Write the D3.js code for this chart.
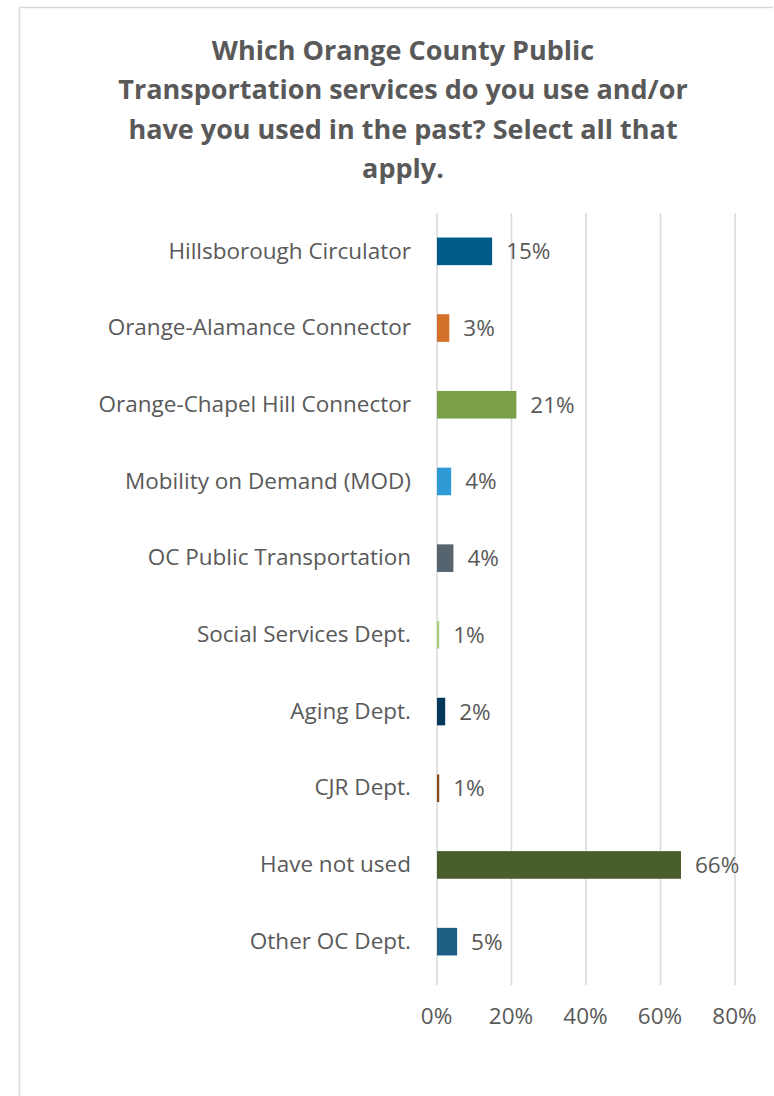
<!DOCTYPE html>
<html>
<head>
<meta charset="utf-8">
<script src="https://cdn.jsdelivr.net/npm/d3@7"></script>
<style>
  body { margin: 0; background: #fff; }
  svg text { font-family: "Open Sans", "Noto Sans", sans-serif; fill: #595959; }
  .axis path, .axis line { stroke: none; }
</style>
</head>
<body>
<div id="chart"></div>
<script>
const categories = [
  "Hillsborough Circulator",
  "Orange-Alamance Connector",
  "Orange-Chapel Hill Connector",
  "Mobility on Demand (MOD)",
  "OC Public Transportation",
  "Social Services Dept.",
  "Aging Dept.",
  "CJR Dept.",
  "Have not used",
  "Other OC Dept."
];
const values = [14.8, 3.3, 21.3, 3.8, 4.4, 0.6, 2.2, 0.6, 65.5, 5.4];
const valueLabels = ["15%", "3%", "21%", "4%", "4%", "1%", "2%", "1%", "66%", "5%"];
const barColors = ["#005a8a", "#d3702a", "#7aa047", "#2e9bd6", "#566470", "#a9cf7a", "#04385a", "#8a4a1a", "#4a5e2b", "#1f5f86"];
const tickValues = [0, 20, 40, 60, 80];
const titleLines = [
  "Which Orange County Public",
  "Transportation services do you use and/or",
  "have you used in the past? Select all that",
  "apply."
];

const W = 774, H = 1096;
const plot = { left: 437, right: 735, top: 213, bottom: 980 };
const labelSize = "22.5px";

const svg = d3.select("#chart").append("svg")
  .attr("width", W)
  .attr("height", H);

// frame (only top and left edges visible in the picture)
svg.append("line")
  .attr("x1", 19.5).attr("x2", 773).attr("y1", 7.5).attr("y2", 7.5)
  .attr("stroke", "#d9d9d9").attr("stroke-width", 1.5);
svg.append("line")
  .attr("x1", 19.5).attr("x2", 19.5).attr("y1", 7.5).attr("y2", H)
  .attr("stroke", "#d9d9d9").attr("stroke-width", 1.5);

// title
svg.append("text")
  .attr("x", 402)
  .attr("text-anchor", "middle")
  .style("font-size", "27px")
  .style("font-weight", "bold")
  .selectAll("tspan")
  .data(titleLines)
  .enter().append("tspan")
  .attr("x", 403)
  .attr("y", (d, i) => 60 + i * 39.3)
  .text(d => d);

const x = d3.scaleLinear()
  .domain([0, 80])
  .range([plot.left, plot.right]);

const y = d3.scaleBand()
  .domain(categories)
  .range([plot.top, plot.bottom])
  .paddingInner(0.64)
  .paddingOuter(0.32);

// gridlines
svg.selectAll("line.grid")
  .data(tickValues)
  .enter().append("line")
  .attr("class", "grid")
  .attr("x1", d => x(d)).attr("x2", d => x(d))
  .attr("y1", plot.top).attr("y2", plot.bottom + 5)
  .attr("stroke", "#d9d9d9")
  .attr("stroke-width", 1.5);

// x axis
const xAxis = d3.axisBottom(x)
  .tickValues(tickValues)
  .tickFormat(d => d + "%")
  .tickSize(0)
  .tickPadding(0);

svg.append("g")
  .attr("class", "axis x")
  .attr("transform", "translate(-1," + (plot.bottom + 28) + ")")
  .call(xAxis)
  .selectAll("text")
  .style("font-size", labelSize)
  .style("fill", "#595959");

// y axis
const yAxis = d3.axisLeft(y).tickSize(0).tickPadding(26);
svg.append("g")
  .attr("class", "axis y")
  .attr("transform", "translate(" + plot.left + ",0)")
  .call(yAxis)
  .selectAll("text")
  .style("font-size", labelSize)
  .style("fill", "#595959");

// bars
svg.selectAll("rect.bar")
  .data(categories)
  .enter().append("rect")
  .attr("class", "bar")
  .attr("x", x(0))
  .attr("y", d => y(d))
  .attr("width", (d, i) => x(values[i]) - x(0))
  .attr("height", y.bandwidth())
  .attr("fill", (d, i) => barColors[i]);

// value labels
svg.selectAll("text.val")
  .data(categories)
  .enter().append("text")
  .attr("class", "val")
  .attr("x", (d, i) => x(values[i]) + 14)
  .attr("y", d => y(d) + y.bandwidth() / 2 + 8)
  .style("font-size", labelSize)
  .text((d, i) => valueLabels[i]);
</script>
</body>
</html>
